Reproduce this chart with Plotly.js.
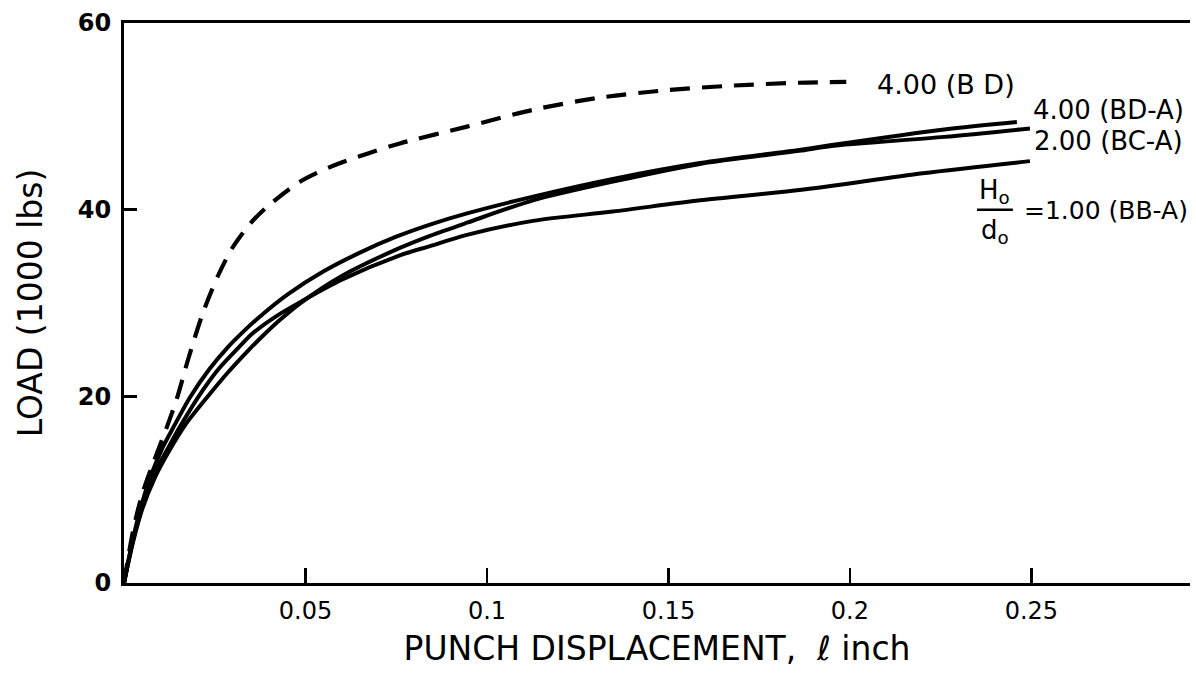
<!DOCTYPE html>
<html>
<head>
<meta charset="utf-8">
<script src="https://cdn.plot.ly/plotly-3.0.1.min.js"></script>
<style>html,body{margin:0;padding:0;background:#fff;}#chart{width:1196px;height:684px;}</style>
</head>
<body>
<div id="chart"></div>
<script>
// Punch displacement (inch) vs load (1000 lbs)
const bdX  = [0, 0.0025, 0.005, 0.008, 0.0118, 0.0146, 0.0177, 0.0218, 0.026, 0.030, 0.035, 0.0394, 0.0485, 0.0576, 0.067, 0.076, 0.0945, 0.1127, 0.131, 0.1496, 0.168, 0.186, 0.199];
const bdY  = [0, 5.6, 9.5, 12.8, 16.7, 19.8, 24.0, 29.0, 33.0, 36.0, 38.6, 40.3, 43.0, 44.7, 46.0, 47.1, 48.9, 50.7, 52.0, 52.8, 53.3, 53.6, 53.7];

const bdaX = [0, 0.0025, 0.005, 0.0075, 0.0105, 0.0135, 0.0182, 0.0235, 0.0287, 0.0328, 0.037, 0.045, 0.055, 0.065, 0.075, 0.0843, 0.0945, 0.1127, 0.1347, 0.1587, 0.186, 0.1945, 0.226, 0.246];
const bdaY = [0, 4.8, 8.6, 11.6, 14.4, 16.6, 19.9, 22.9, 25.3, 26.9, 28.4, 30.9, 33.4, 35.4, 37.1, 38.4, 39.6, 41.4, 43.3, 45.0, 46.4, 46.9, 48.6, 49.4];

const bcaX = [0, 0.0025, 0.005, 0.0085, 0.0125, 0.0168, 0.0229, 0.0285, 0.0342, 0.0375, 0.043, 0.049, 0.06, 0.076, 0.0843, 0.0945, 0.1127, 0.1347, 0.1587, 0.186, 0.1945, 0.226, 0.2496];
const bcaY = [0, 4.4, 7.9, 11.3, 14.2, 16.9, 19.9, 22.5, 24.9, 26.2, 28.2, 30.1, 32.9, 35.9, 37.2, 38.6, 41.0, 43.0, 44.9, 46.3, 46.8, 47.8, 48.7];

const bbaX = [0, 0.0025, 0.005, 0.008, 0.0115, 0.0152, 0.0204, 0.026, 0.032, 0.0353, 0.042, 0.049, 0.06, 0.076, 0.0843, 0.0945, 0.1127, 0.1347, 0.1587, 0.186, 0.22, 0.2496];
const bbaY = [0, 4.6, 8.2, 11.5, 14.0, 16.6, 19.9, 22.9, 25.4, 26.7, 28.6, 30.2, 32.5, 35.1, 36.1, 37.3, 38.8, 39.8, 41.0, 42.1, 43.9, 45.2];

const xTickVals = [0.05, 0.1, 0.15, 0.2, 0.25];
const xTickText = ["0.05", "0.1", "0.15", "0.2", "0.25"];
const yTickVals = [0, 20, 40, 60];
const yTickText = ["0", "20", "40", "60"];

const FONT = "DejaVu Sans, Liberation Sans, sans-serif";
const lineStyle = {color: "#000", width: 4, shape: "spline", smoothing: 0.8};

const traces = [
  {x: bdX, y: bdY, mode: "lines", name: "4.00 (BD)", line: Object.assign({}, lineStyle, {width: 4.2, dash: "20px,12px"})},
  {x: bdaX, y: bdaY, mode: "lines", name: "4.00 (BD-A)", line: lineStyle},
  {x: bcaX, y: bcaY, mode: "lines", name: "2.00 (BC-A)", line: lineStyle},
  {x: bbaX, y: bbaY, mode: "lines", name: "1.00 (BB-A)", line: lineStyle}
];

const labelFont = {family: FONT, size: 26, color: "#000"};
const smallLabelFont = {family: FONT, size: 25, color: "#000"};

const layout = {
  width: 1196, height: 684,
  margin: {l: 124, r: 6, t: 23, b: 101},
  paper_bgcolor: "#fff", plot_bgcolor: "#fff",
  showlegend: false,
  font: {family: FONT, color: "#000"},
  xaxis: {
    range: [0, 0.2937], showgrid: false, zeroline: false,
    showline: true, linecolor: "#000", linewidth: 3, mirror: true,
    ticks: "inside", ticklen: 15, tickwidth: 2.5, tickcolor: "#000",
    tickvals: xTickVals, ticktext: xTickText,
    tickfont: {family: FONT, size: 24, color: "#000"},
    ticklabelstandoff: 4,
    title: {text: "PUNCH DISPLACEMENT,  ℓ inch", font: {family: FONT, size: 33, color: "#000"}, standoff: 14}
  },
  yaxis: {
    range: [0, 60], showgrid: false, zeroline: false,
    showline: true, linecolor: "#000", linewidth: 3,
    ticks: "inside", ticklen: 13, tickwidth: 2.5, tickcolor: "#000",
    tickvals: yTickVals, ticktext: yTickText,
    tickfont: {family: "DejaVu Sans, sans-serif", size: 24, color: "#000", weight: "bold"},
    ticklabelstandoff: 5,
    title: {text: "LOAD (1000 lbs)", font: {family: FONT, size: 33, color: "#000"}, standoff: 26}
  },
  annotations: [
    {x: 0.2069, y: 53.4, xref: "x", yref: "y", text: "4.00 (B D)", showarrow: false, xanchor: "left", yanchor: "middle", font: {family: FONT, size: 27, color: "#000"}},
    {x: 0.2500, y: 50.7, xref: "x", yref: "y", text: "4.00 (BD-A)", showarrow: false, xanchor: "left", yanchor: "middle", font: labelFont},
    {x: 0.2503, y: 47.4, xref: "x", yref: "y", text: "2.00 (BC-A)", showarrow: false, xanchor: "left", yanchor: "middle", font: labelFont},
    {x: 0.2399, y: 42.0, xref: "x", yref: "y", text: "H<sub>o</sub>", showarrow: false, xanchor: "center", yanchor: "middle", font: labelFont},
    {x: 0.2399, y: 37.7, xref: "x", yref: "y", text: "d<sub>o</sub>", showarrow: false, xanchor: "center", yanchor: "middle", font: labelFont},
    {x: 0.2475, y: 39.9, xref: "x", yref: "y", text: "=1.00 (BB-A)", showarrow: false, xanchor: "left", yanchor: "middle", font: smallLabelFont}
  ],
  shapes: [
    {type: "line", xref: "x", yref: "y", x0: 0.2350, x1: 0.2449, y0: 40.0, y1: 40.0, line: {color: "#000", width: 2.5}}
  ]
};

Plotly.newPlot("chart", traces, layout, {staticPlot: true, displayModeBar: false});
</script>
</body>
</html>
